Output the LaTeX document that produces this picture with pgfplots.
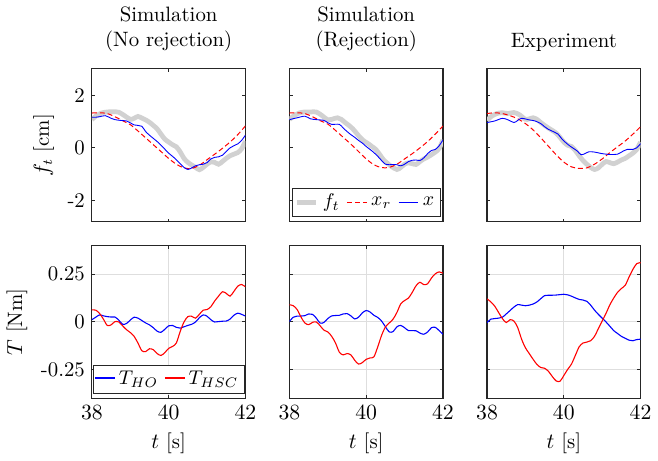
\documentclass[border=0pt]{standalone}
\usepackage{pgfplots}
\pgfplotsset{compat=1.18}
\usepgfplotslibrary{groupplots}
\definecolor{ftgray}{gray}{0.82}
\definecolor{axgray}{gray}{0.15}
\pgfplotsset{
  every axis/.append style={font=\fontsize{10.5}{12.8}\selectfont},
  shortlegend/.style={legend image code/.code={\draw[##1] (0pt,0pt) -- (10pt,0pt);}},
  ftline/.style={color=ftgray, line width=2.4pt, smooth},
  xrline/.style={color=red, line width=0.5pt, dash pattern=on 2.5pt off 1.5pt, smooth},
  xline/.style={color=blue, line width=0.45pt, smooth},
  hoLine/.style={color=blue, line width=0.55pt, smooth},
  hscLine/.style={color=red, line width=0.55pt, smooth},
  hoLegend/.style={legend image code/.code={\node[inner sep=0pt, outer sep=0pt, anchor=west] at (0pt,0pt) {\textcolor{blue}{\rule[-0.3pt]{10pt}{0.6pt}}};}},
  hscLegend/.style={legend image code/.code={\node[inner sep=0pt, outer sep=0pt, anchor=west] at (0pt,0pt) {\textcolor{red}{\rule[-0.3pt]{10pt}{0.6pt}}};}},
  mylegend/.style={legend style={draw=axgray, line width=0.5pt, fill=white,
    inner xsep=1pt, inner ysep=1pt, font=\fontsize{10}{12}\selectfont,
    at={(0.5,0.03)}, anchor=south,
    /tikz/every even column/.append style={column sep=1.5pt},
    /tikz/every odd column/.append style={column sep=0pt}},
    legend cell align=left, shortlegend},
}
\begin{document}
\begin{tikzpicture}
\begin{groupplot}[
  group style={group size=3 by 2, horizontal sep=22.25pt, vertical sep=12pt,
    xticklabels at=edge bottom},
  width=77.5pt, height=77.25pt, scale only axis,
  xmin=38, xmax=42, xtick={38,40,42},
  tick align=inside, major tick length=1.6pt,
  tick style={color=axgray, line width=0.5pt},
  axis line style={color=axgray, line width=0.6pt},
  title style={align=center, yshift=-1pt},
]
%%%%%%%%%%%%%%%% top row %%%%%%%%%%%%%%%%
\nextgroupplot[title={Simulation\\(No rejection)},
  ymin=-2.8, ymax=3, ytick={-2,0,2}, yticklabels={\mbox{-2},0,2},
  ylabel={$f_t$ [cm]}]
\addplot[ftline] coordinates {
(38.0,1.07)(38.1,1.20)(38.25,1.32)(38.4,1.36)(38.55,1.37)(38.7,1.35)(38.85,1.22)
(39.0,1.08)(39.1,1.12)(39.2,1.19)(39.3,1.13)(39.4,1.06)(39.5,0.97)(39.6,0.85)
(39.7,0.72)(39.8,0.52)(39.9,0.33)(40.0,0.22)(40.1,0.12)(40.2,0.04)(40.3,-0.15)
(40.4,-0.40)(40.5,-0.55)(40.6,-0.65)(40.7,-0.74)(40.8,-0.83)(40.9,-0.74)
(41.0,-0.62)(41.1,-0.53)(41.2,-0.55)(41.3,-0.62)(41.4,-0.52)(41.5,-0.40)
(41.6,-0.30)(41.7,-0.24)(41.8,-0.18)(41.9,-0.04)(42.0,0.25)};
\addplot[xrline] coordinates {
(38.0,1.32)(38.2,1.33)(38.4,1.30)(38.6,1.18)(38.8,1.03)(39.0,0.88)(39.2,0.64)
(39.4,0.38)(39.6,0.12)(39.8,-0.14)(40.0,-0.40)(40.2,-0.62)(40.4,-0.76)(40.6,-0.78)
(40.8,-0.66)(41.0,-0.45)(41.2,-0.24)(41.4,-0.02)(41.6,0.22)(41.8,0.50)(42.0,0.83)};
\addplot[xline] coordinates {
(38.0,1.16)(38.1,1.16)(38.2,1.18)(38.35,1.22)(38.5,1.12)(38.6,1.07)(38.75,1.04)
(38.9,1.02)(39.0,0.95)(39.1,0.87)(39.2,0.85)(39.3,0.82)(39.4,0.62)(39.5,0.48)
(39.6,0.36)(39.7,0.24)(39.8,0.10)(39.9,-0.05)(40.0,-0.20)(40.1,-0.32)(40.2,-0.45)
(40.3,-0.60)(40.4,-0.74)(40.5,-0.82)(40.6,-0.76)(40.7,-0.68)(40.8,-0.64)
(40.9,-0.62)(41.0,-0.56)(41.1,-0.42)(41.2,-0.36)(41.3,-0.34)(41.4,-0.28)
(41.5,-0.14)(41.6,0.00)(41.7,0.08)(41.8,0.15)(41.9,0.28)(42.0,0.48)};

\nextgroupplot[title={Simulation\\(Rejection)},
  ymin=-2.8, ymax=3, ytick={-2,0,2}, yticklabels={},
  mylegend, legend columns=3]
\addplot[ftline] coordinates {
(38.0,1.07)(38.1,1.20)(38.25,1.32)(38.4,1.36)(38.55,1.36)(38.7,1.36)(38.85,1.22)
(39.0,1.06)(39.1,1.08)(39.25,1.14)(39.35,1.08)(39.45,0.96)(39.55,0.85)(39.65,0.72)
(39.75,0.55)(39.85,0.38)(39.95,0.25)(40.05,0.16)(40.15,0.05)(40.25,-0.06)
(40.35,-0.25)(40.45,-0.45)(40.55,-0.58)(40.65,-0.70)(40.8,-0.82)(40.9,-0.74)
(41.0,-0.62)(41.1,-0.57)(41.2,-0.60)(41.3,-0.63)(41.4,-0.52)(41.5,-0.42)
(41.6,-0.35)(41.7,-0.26)(41.8,-0.16)(41.9,-0.02)(42.0,0.30)};
\addlegendentry{$f_t$}
\addplot[xrline] coordinates {
(38.0,1.32)(38.2,1.33)(38.4,1.30)(38.6,1.18)(38.8,1.03)(39.0,0.90)(39.2,0.66)
(39.4,0.40)(39.6,0.14)(39.8,-0.14)(40.0,-0.42)(40.2,-0.64)(40.4,-0.75)(40.6,-0.74)
(40.8,-0.62)(41.0,-0.42)(41.2,-0.22)(41.4,0.00)(41.6,0.24)(41.8,0.52)(42.0,0.83)};
\addlegendentry{$x_r$}
\addplot[xline] coordinates {
(38.0,1.07)(38.2,1.14)(38.4,1.20)(38.55,1.10)(38.7,1.07)(38.9,1.04)(39.0,0.95)
(39.1,0.89)(39.3,0.89)(39.4,0.75)(39.5,0.62)(39.6,0.50)(39.7,0.40)(39.8,0.28)
(39.9,0.18)(40.0,0.05)(40.1,-0.06)(40.2,-0.18)(40.3,-0.32)(40.4,-0.48)(40.5,-0.62)
(40.6,-0.64)(40.7,-0.63)(40.8,-0.64)(40.9,-0.68)(41.0,-0.62)(41.1,-0.52)
(41.2,-0.47)(41.3,-0.46)(41.4,-0.48)(41.5,-0.38)(41.6,-0.22)(41.7,-0.10)
(41.8,-0.06)(41.9,0.08)(42.0,0.30)};
\addlegendentry{$x$}

\nextgroupplot[title={\mbox{}\\Experiment},
  ymin=-2.8, ymax=3, ytick={-2,0,2}, yticklabels={}]
\addplot[ftline] coordinates {
(38.0,1.04)(38.1,1.18)(38.25,1.30)(38.4,1.33)(38.55,1.30)(38.7,1.34)(38.85,1.25)
(39.0,1.08)(39.1,1.10)(39.2,1.14)(39.3,1.08)(39.4,0.96)(39.5,0.85)(39.6,0.75)
(39.7,0.66)(39.8,0.56)(39.9,0.40)(40.0,0.22)(40.1,0.10)(40.2,0.05)(40.3,-0.10)
(40.4,-0.30)(40.5,-0.48)(40.6,-0.62)(40.7,-0.74)(40.8,-0.82)(40.9,-0.76)
(41.0,-0.62)(41.1,-0.52)(41.2,-0.56)(41.3,-0.60)(41.4,-0.54)(41.5,-0.46)
(41.6,-0.40)(41.7,-0.30)(41.8,-0.20)(41.9,-0.06)(42.0,0.22)};
\addplot[xrline] coordinates {
(38.0,1.30)(38.2,1.33)(38.4,1.30)(38.6,1.22)(38.8,1.10)(39.0,0.92)(39.2,0.68)
(39.4,0.38)(39.6,0.06)(39.8,-0.26)(40.0,-0.54)(40.2,-0.72)(40.4,-0.78)(40.6,-0.76)
(40.8,-0.62)(41.0,-0.42)(41.2,-0.18)(41.4,0.04)(41.6,0.26)(41.8,0.52)(42.0,0.80)};
\addplot[xline] coordinates {
(38.0,0.96)(38.2,1.02)(38.4,1.12)(38.55,1.06)(38.7,0.96)(38.8,1.04)(38.9,1.12)
(39.1,1.06)(39.25,1.02)(39.4,0.92)(39.5,0.80)(39.6,0.70)(39.75,0.60)(39.85,0.52)
(39.95,0.34)(40.05,0.20)(40.15,0.08)(40.25,-0.02)(40.35,-0.12)(40.45,-0.26)
(40.55,-0.22)(40.65,-0.15)(40.8,-0.16)(41.0,-0.22)(41.2,-0.25)(41.4,-0.24)
(41.55,-0.12)(41.65,-0.06)(41.8,-0.06)(41.9,0.00)(42.0,0.16)};
%%%%%%%%%%%%%%%% bottom row %%%%%%%%%%%%%%%%
\nextgroupplot[ymin=-0.4, ymax=0.4, ytick={-0.25,0,0.25},
  yticklabels={\mbox{-0.25},0,0.25},
  grid=major, major grid style={color=black!13, line width=0.5pt},
  ylabel={$T$ [Nm]}, xlabel={$t$ [s]}]
\addplot[hoLine] coordinates {
(38.0,0.012)(38.1,0.025)(38.2,0.037)(38.3,0.032)(38.4,0.028)(38.5,0.026)(38.6,0.026)
(38.7,0.010)(38.8,-0.012)(38.9,-0.008)(39.0,0.010)(39.1,0.025)(39.2,0.020)(39.3,0.008)
(39.4,-0.005)(39.5,-0.015)(39.6,-0.030)(39.7,-0.048)(39.8,-0.054)(39.9,-0.038)
(40.0,-0.020)(40.1,-0.018)(40.2,-0.028)(40.3,-0.032)(40.4,-0.025)(40.5,-0.018)
(40.6,-0.012)(40.7,0.000)(40.8,0.022)(40.9,0.037)(41.0,0.030)(41.1,0.012)
(41.2,0.000)(41.3,0.002)(41.4,0.004)(41.5,0.005)(41.6,0.015)(41.7,0.035)
(41.8,0.046)(41.9,0.040)(42.0,0.031)};
\addplot[hscLine] coordinates {
(38.0,0.063)(38.1,0.062)(38.2,0.045)(38.3,0.015)(38.4,-0.018)(38.5,-0.015)(38.6,0.002)
(38.7,0.000)(38.8,-0.020)(38.9,-0.040)(39.0,-0.055)(39.1,-0.075)(39.2,-0.110)
(39.3,-0.150)(39.4,-0.155)(39.5,-0.140)(39.6,-0.145)(39.7,-0.165)(39.8,-0.175)
(39.9,-0.160)(40.0,-0.138)(40.1,-0.128)(40.2,-0.110)(40.3,-0.050)(40.4,0.000)
(40.5,0.028)(40.6,0.030)(40.7,0.020)(40.8,0.040)(40.9,0.062)(41.0,0.065)
(41.1,0.080)(41.2,0.110)(41.3,0.135)(41.4,0.158)(41.5,0.150)(41.6,0.135)
(41.7,0.160)(41.8,0.187)(41.9,0.196)(42.0,0.184)};

\nextgroupplot[ymin=-0.4, ymax=0.4, ytick={-0.25,0,0.25}, yticklabels={},
  grid=major, major grid style={color=black!13, line width=0.5pt},
  xlabel={$t$ [s]}]
\addplot[hoLine] coordinates {
(38.0,0.003)(38.1,0.025)(38.2,0.031)(38.3,0.031)(38.4,0.033)(38.5,0.042)(38.6,0.040)
(38.7,0.020)(38.8,-0.006)(38.9,-0.002)(39.0,0.018)(39.1,0.032)(39.2,0.034)
(39.3,0.035)(39.4,0.042)(39.5,0.044)(39.6,0.032)(39.7,0.016)(39.8,0.025)
(39.9,0.048)(40.0,0.060)(40.1,0.052)(40.2,0.035)(40.3,0.024)(40.4,0.005)
(40.5,-0.025)(40.6,-0.052)(40.7,-0.050)(40.8,-0.025)(40.9,-0.018)(41.0,-0.030)
(41.1,-0.045)(41.2,-0.045)(41.3,-0.046)(41.4,-0.058)(41.5,-0.064)(41.6,-0.052)
(41.7,-0.030)(41.8,-0.028)(41.9,-0.045)(42.0,-0.064)};
\addplot[hscLine] coordinates {
(38.0,0.090)(38.1,0.085)(38.2,0.065)(38.3,0.026)(38.4,-0.005)(38.5,-0.014)(38.6,-0.002)
(38.7,0.000)(38.8,-0.020)(38.9,-0.043)(39.0,-0.052)(39.1,-0.075)(39.2,-0.110)
(39.3,-0.158)(39.4,-0.172)(39.5,-0.165)(39.6,-0.172)(39.7,-0.200)(39.8,-0.220)
(39.9,-0.212)(40.0,-0.195)(40.1,-0.188)(40.2,-0.182)(40.3,-0.130)(40.4,-0.070)
(40.5,-0.026)(40.6,-0.005)(40.7,0.015)(40.8,0.050)(40.9,0.095)(41.0,0.112)
(41.1,0.125)(41.2,0.155)(41.3,0.190)(41.4,0.208)(41.5,0.195)(41.6,0.200)
(41.7,0.230)(41.8,0.252)(41.9,0.262)(42.0,0.255)};

\nextgroupplot[ymin=-0.4, ymax=0.4, ytick={-0.25,0,0.25}, yticklabels={},
  grid=major, major grid style={color=black!13, line width=0.5pt},
  xlabel={$t$ [s]}]
\addplot[hoLine] coordinates {
(38.0,-0.003)(38.1,0.015)(38.2,0.018)(38.3,0.020)(38.4,0.025)(38.5,0.042)(38.6,0.060)
(38.7,0.078)(38.8,0.091)(38.9,0.088)(39.0,0.085)(39.1,0.088)(39.2,0.094)(39.3,0.105)
(39.4,0.122)(39.5,0.138)(39.6,0.140)(39.7,0.140)(39.8,0.141)(39.9,0.143)(40.0,0.145)
(40.1,0.142)(40.2,0.135)(40.3,0.126)(40.4,0.118)(40.5,0.115)(40.6,0.108)(40.7,0.088)
(40.8,0.062)(40.9,0.040)(41.0,0.020)(41.1,0.000)(41.2,-0.022)(41.3,-0.045)
(41.4,-0.060)(41.5,-0.075)(41.6,-0.085)(41.7,-0.095)(41.8,-0.098)(41.9,-0.092)
(42.0,-0.090)};
\addplot[hscLine] coordinates {
(38.0,0.121)(38.1,0.105)(38.2,0.083)(38.3,0.050)(38.4,0.018)(38.5,-0.003)(38.6,0.012)
(38.7,0.005)(38.8,-0.030)(38.9,-0.090)(39.0,-0.135)(39.1,-0.165)(39.2,-0.195)
(39.3,-0.222)(39.4,-0.238)(39.5,-0.242)(39.6,-0.258)(39.7,-0.285)(39.8,-0.308)
(39.9,-0.310)(40.0,-0.280)(40.1,-0.248)(40.2,-0.220)(40.3,-0.175)(40.4,-0.130)
(40.5,-0.110)(40.6,-0.105)(40.7,-0.098)(40.8,-0.075)(40.9,-0.035)(41.0,0.005)
(41.1,0.045)(41.2,0.090)(41.3,0.125)(41.4,0.155)(41.5,0.175)(41.6,0.192)
(41.7,0.235)(41.8,0.275)(41.9,0.305)(42.0,0.310)};
\end{groupplot}
% legend of the bottom-left panel, drawn in an overlaid axis without labels
\begin{axis}[at={(group c1r2.south west)}, anchor=south west,
  width=77.5pt, height=77.25pt, scale only axis, hide axis,
  xmin=38, xmax=42, ymin=-0.4, ymax=0.4,
  mylegend, legend columns=2]
\addlegendimage{hoLine, hoLegend}
\addlegendentry{$T_{HO}$}
\addlegendimage{hscLine, hscLegend}
\addlegendentry{$T_{HSC}$}
\end{axis}
\path (group c1r1.north west) ++(-45pt,32pt) coordinate (bbTL);
\path (group c3r2.south east) ++(7pt,-31pt) coordinate (bbBR);
\path (bbTL) rectangle (bbBR);
\end{tikzpicture}
\end{document}
